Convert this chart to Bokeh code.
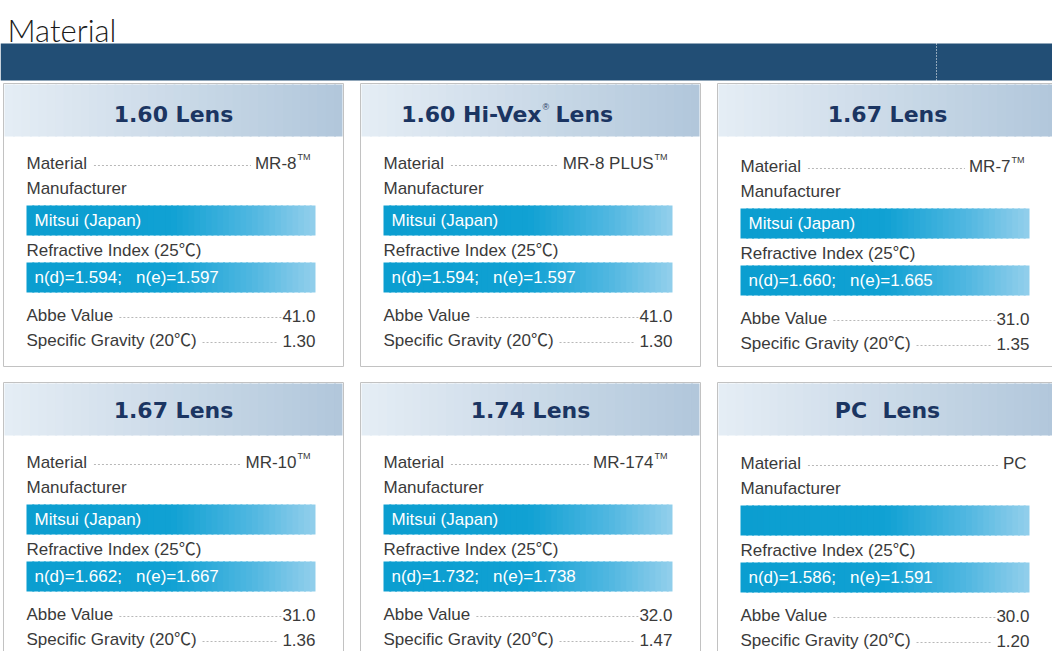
from bokeh.plotting import figure
from bokeh.models import Range1d
from bokeh.core.properties import value
from bokeh.embed import file_html
from bokeh.resources import INLINE

# ---------------- data ----------------
page_title = "Material"
titles = ["1.60 Lens", "1.60 Hi-Vex\u00ae Lens", "1.67 Lens", "1.67 Lens", "1.74 Lens", "PC  Lens"]
materials = ["MR-8", "MR-8 PLUS", "MR-7", "MR-10", "MR-174", "PC"]
trademarks = ["TM", "TM", "TM", "TM", "TM", ""]
manufacturers = ["Mitsui (Japan)", "Mitsui (Japan)", "Mitsui (Japan)", "Mitsui (Japan)", "Mitsui (Japan)", ""]
n_d = [1.594, 1.594, 1.660, 1.662, 1.732, 1.586]
n_e = [1.597, 1.597, 1.665, 1.667, 1.738, 1.591]
abbe = [41.0, 41.0, 31.0, 31.0, 32.0, 30.0]
gravity = [1.30, 1.30, 1.35, 1.36, 1.47, 1.20]

lbl_material = "Material"
lbl_manufacturer = "Manufacturer"
lbl_refractive = "Refractive Index (25\u2103)"
lbl_abbe = "Abbe Value"
lbl_gravity = "Specific Gravity (20\u2103)"

NB = "\u00a0"

# ---------------- helpers ----------------
ARIAL = {' ': 278, '(': 333, ')': 333, '-': 333, '.': 278, ';': 278, '=': 584,
         'A': 667, 'B': 667, 'C': 722, 'D': 722, 'E': 667, 'F': 611, 'G': 778, 'H': 722,
         'I': 278, 'J': 500, 'K': 667, 'L': 556, 'M': 833, 'N': 722, 'O': 778, 'P': 667,
         'R': 722, 'S': 667, 'T': 611, 'U': 722, 'V': 667,
         'a': 556, 'b': 556, 'c': 500, 'd': 556, 'e': 556, 'f': 278, 'g': 556, 'h': 556,
         'i': 222, 'j': 222, 'k': 500, 'l': 222, 'm': 833, 'n': 556, 'o': 556, 'p': 556,
         'r': 333, 's': 500, 't': 278, 'u': 556, 'v': 500, 'x': 500, 'y': 500, '\u2103': 1000}
for d in "0123456789":
    ARIAL[d] = 556


def tw(s, size):
    return sum(ARIAL.get(ch, 556) for ch in s) * size / 1000.0


def hex2rgb(h):
    h = h.lstrip('#')
    return tuple(int(h[i:i + 2], 16) for i in (0, 2, 4))


def interp(stops, t):
    for (t0, c0), (t1, c1) in zip(stops[:-1], stops[1:]):
        if t0 <= t <= t1:
            f = 0 if t1 == t0 else (t - t0) / (t1 - t0)
            a, b = hex2rgb(c0), hex2rgb(c1)
            return "#%02x%02x%02x" % tuple(int(round(a[k] + (b[k] - a[k]) * f)) for k in range(3))
    return stops[-1][1]


G = dict(l=[], r=[], t=[], b=[], c=[])


def gradient(x0, x1, y0, y1, stops, n=50):
    w = (x1 - x0) / n
    for k in range(n):
        G['l'].append(x0 + k * w)
        G['r'].append(min(x1, x0 + (k + 1) * w + 2.0))
        G['t'].append(y0)
        G['b'].append(y1)
        G['c'].append(interp(stops, (k + 0.5) / n))


# ---------------- figure ----------------
p = figure(width=1052, height=651, x_range=Range1d(0, 1052), y_range=Range1d(651, 0),
           output_backend="svg", toolbar_location=None, min_border=0)
p.axis.visible = False
p.grid.visible = False
p.outline_line_color = None
p.background_fill_color = "white"
p.border_fill_color = "white"

BODY = value("Liberation Sans, Arial, Noto Sans CJK SC, sans-serif")
TITLEF = value("DejaVu Sans, Arial Black, sans-serif")
TEXTC = "#3a3a3a"
NAVY = "#1b3562"

# page title and top band
p.text(x=[7], y=[29], text=[page_title], text_font=value("'Lato Light', 'Open Sans', sans-serif"),
       text_font_size="31px", text_color="#1a1a1a", text_baseline="middle", text_align="left")
p.quad(left=[0], right=[1060], top=[43], bottom=[80], fill_color="#224e75", line_color=None)
p.segment(x0=[936], y0=[43], x1=[936], y1=[80], line_color="white", line_dash="1 2", line_width=1)

card_x = [3, 360, 717]
row_y = [83, 382]
title_off = [31, 28]
content_dy = [0, 0, 3, 0, 0, 1]

header_stops = [(0, "#e5edf5"), (1, "#b1c7db")]
bar_stops = [(0, "#0b9ed0"), (0.5, "#10a1d3"), (0.78, "#50b7e1"), (1, "#93cfeb")]

cards = dict(l=[], r=[], t=[], b=[])
txt = dict(x=[], y=[], s=[], align=[], color=[])
small = dict(x=[], y=[], s=[])
lead = dict(x0=[], x1=[], y=[])
heads = []

for i in range(6):
    r, c = divmod(i, 3)
    L = card_x[c]
    T = row_y[r]
    D = T + content_dy[i]
    cards['l'].append(L); cards['r'].append(L + 340)
    cards['t'].append(T); cards['b'].append(T + 283)
    gradient(L + 1, L + 339, T + 1, T + 53, header_stops, n=40)

    bl, br = L + 23, L + 312
    gradient(bl, br, D + 122, D + 152, bar_stops)
    gradient(bl, br, D + 179, D + 209, bar_stops)

    # material row
    y = D + 80
    txt['x'].append(bl); txt['y'].append(y); txt['s'].append(lbl_material)
    txt['align'].append("left"); txt['color'].append(TEXTC)
    if trademarks[i]:
        vr = br - 19
        small['x'].append(vr + 1); small['y'].append(y - 7); small['s'].append(trademarks[i])
    else:
        vr = br - 3
    txt['x'].append(vr); txt['y'].append(y); txt['s'].append(materials[i])
    txt['align'].append("right"); txt['color'].append(TEXTC)
    lead['x0'].append(bl + tw(lbl_material, 17) + 7)
    lead['x1'].append(vr - tw(materials[i], 17) - 4)
    lead['y'].append(y + 2)

    # manufacturer
    txt['x'].append(bl); txt['y'].append(D + 105); txt['s'].append(lbl_manufacturer)
    txt['align'].append("left"); txt['color'].append(TEXTC)
    txt['x'].append(bl + 8); txt['y'].append(D + 137); txt['s'].append(manufacturers[i])
    txt['align'].append("left"); txt['color'].append("white")

    # refractive
    txt['x'].append(bl); txt['y'].append(D + 167); txt['s'].append(lbl_refractive)
    txt['align'].append("left"); txt['color'].append(TEXTC)
    txt['x'].append(bl + 8); txt['y'].append(D + 194)
    txt['s'].append("n(d)=%.3f;%sn(e)=%.3f" % (n_d[i], NB * 3, n_e[i]))
    txt['align'].append("left"); txt['color'].append("white")

    # abbe
    y = D + 232
    sv = "%.1f" % abbe[i]
    txt['x'].append(br); txt['y'].append(y); txt['s'].append(sv)
    txt['align'].append("right"); txt['color'].append(TEXTC)
    txt['x'].append(bl); txt['y'].append(y); txt['s'].append(lbl_abbe)
    txt['align'].append("left"); txt['color'].append(TEXTC)
    lead['x0'].append(bl + tw(lbl_abbe, 17) + 5)
    lead['x1'].append(br - tw(sv, 17) - 1)
    lead['y'].append(y + 2)

    # gravity
    y = D + 257
    sv = "%.2f" % gravity[i]
    txt['x'].append(br); txt['y'].append(y); txt['s'].append(sv)
    txt['align'].append("right"); txt['color'].append(TEXTC)
    txt['x'].append(bl); txt['y'].append(y); txt['s'].append(lbl_gravity)
    txt['align'].append("left"); txt['color'].append(TEXTC)
    lead['x0'].append(bl + tw(lbl_gravity, 17) + 6)
    lead['x1'].append(br - tw(sv, 17) - 4)
    lead['y'].append(y + 2)

    heads.append((L + 170, T + title_off[r], titles[i]))

# draw: cards, gradients, leaders, texts
p.quad(left=cards['l'], right=cards['r'], top=cards['t'], bottom=cards['b'],
       fill_color="white", line_color="#c2c2c2", line_width=1)
p.quad(left=G['l'], right=G['r'], top=G['t'], bottom=G['b'], fill_color=G['c'], line_color=None)
p.segment(x0=lead['x0'], y0=lead['y'], x1=lead['x1'], y1=lead['y'],
          line_color="#b8b8b8", line_dash="2 2", line_width=1)

for cx, ty, t in heads:
    if "\u00ae" in t:
        pre, post = t.split("\u00ae")
        p.text(x=[cx + 11], y=[ty], text=[pre.strip()], text_font=TITLEF, text_font_style="bold",
               text_font_size="22px", text_color=NAVY, text_baseline="middle", text_align="right")
        p.text(x=[cx + 12], y=[ty - 8], text=["\u00ae"], text_font=BODY,
               text_font_size="9px", text_color=NAVY, text_baseline="middle", text_align="left")
        p.text(x=[cx + 25], y=[ty], text=[post.strip()], text_font=TITLEF, text_font_style="bold",
               text_font_size="22px", text_color=NAVY, text_baseline="middle", text_align="left")
    else:
        p.text(x=[cx], y=[ty], text=[t.replace("  ", NB + NB)], text_font=TITLEF, text_font_style="bold",
               text_font_size="22px", text_color=NAVY, text_baseline="middle", text_align="center")

for al in ("left", "right"):
    idx = [k for k in range(len(txt['x'])) if txt['align'][k] == al]
    p.text(x=[txt['x'][k] for k in idx], y=[txt['y'][k] for k in idx],
           text=[txt['s'][k] for k in idx], text_color=[txt['color'][k] for k in idx],
           text_font=BODY, text_font_size="17px", text_baseline="middle", text_align=al)
p.text(x=small['x'], y=small['y'], text=small['s'], text_font=BODY, text_font_size="9px",
       text_color=TEXTC, text_baseline="middle", text_align="left")

open("out.html", "w").write(file_html(p, INLINE))
